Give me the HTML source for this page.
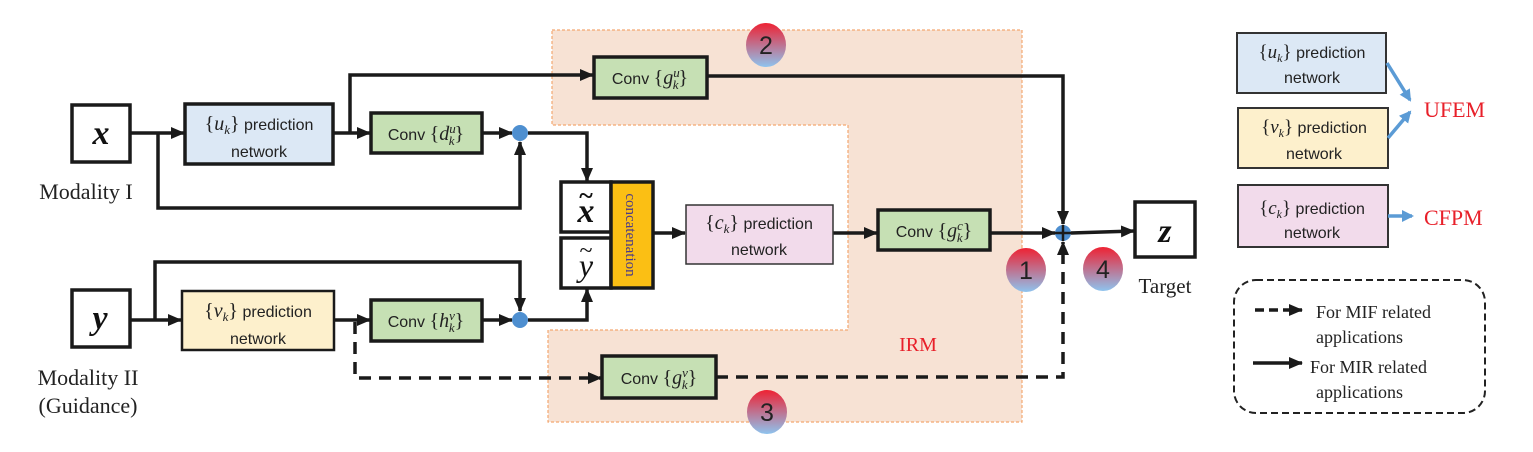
<!DOCTYPE html>
<html><head><meta charset="utf-8"><style>
html,body{margin:0;padding:0;background:#fff;}
svg{display:block;}
.s{font-family:"Liberation Sans","DejaVu Sans",sans-serif;font-size:16px;fill:#222;}
.m{font-family:"Liberation Serif",serif;font-style:italic;}
.r{font-family:"Liberation Serif",serif;}
</style></head><body>
<svg width="1533" height="452" viewBox="0 0 1533 452" xmlns="http://www.w3.org/2000/svg">
<defs>
<marker id="a" markerWidth="14" markerHeight="14" refX="13" refY="7" orient="auto" markerUnits="userSpaceOnUse"><path d="M0,1 L14,7 L0,13 z" fill="#1a1a1a"/></marker>
<marker id="b" markerWidth="12" markerHeight="12" refX="10" refY="6" orient="auto" markerUnits="userSpaceOnUse"><path d="M0,0 L12,6 L0,12 z" fill="#5b9bd5"/></marker>
<linearGradient id="g" x1="0" y1="0" x2="0" y2="1"><stop offset="0" stop-color="#ee2233"/><stop offset="1" stop-color="#8ec3ee"/></linearGradient>
</defs>
<path d="M552,30 H1022 V422 H548 V330 H848 V125 H552 Z" fill="#f7e2d4" stroke="#f4a870" stroke-width="1.2" stroke-dasharray="3,2"/>
<text x="918" y="351" class="r" font-size="20" fill="#e8202a" text-anchor="middle">IRM</text>
<g stroke="#1a1a1a" stroke-width="3.5" fill="none">
<line x1="130" y1="133" x2="184" y2="133" marker-end="url(#a)"/>
<polyline points="158,133 158,208 520,208 520,142" marker-end="url(#a)"/>
<line x1="333" y1="133" x2="370" y2="133" marker-end="url(#a)"/>
<polyline points="350,133 350,75 593,75" marker-end="url(#a)"/>
<line x1="482" y1="133" x2="512" y2="133" marker-end="url(#a)"/>
<polyline points="528,133 587,133 587,181" marker-end="url(#a)"/>
<polyline points="707,76 1063,76 1063,224" marker-end="url(#a)"/>
<line x1="130" y1="320" x2="181" y2="320" marker-end="url(#a)"/>
<polyline points="155,320 155,262 520,262 520,311" marker-end="url(#a)"/>
<line x1="334" y1="320" x2="370" y2="320" marker-end="url(#a)"/>
<line x1="482" y1="320" x2="512" y2="320" marker-end="url(#a)"/>
<polyline points="528,320 587,320 587,289" marker-end="url(#a)"/>
<line x1="653" y1="233" x2="685" y2="233" marker-end="url(#a)"/>
<line x1="833" y1="233" x2="877" y2="233" marker-end="url(#a)"/>
<line x1="990" y1="233" x2="1055" y2="233" marker-end="url(#a)"/>
<line x1="1071" y1="233" x2="1134" y2="231" marker-end="url(#a)"/>
</g>
<g stroke="#1a1a1a" stroke-width="3.5" fill="none" stroke-dasharray="12,8">
<polyline points="355,322 355,378 601,378" marker-end="url(#a)"/>
<polyline points="716,377 1063,377 1063,242" marker-end="url(#a)"/>
</g>
<circle cx="520" cy="133" r="8" fill="#4e8fd0"/>
<circle cx="520" cy="320" r="8" fill="#4e8fd0"/>
<circle cx="1063" cy="233" r="8" fill="#4e8fd0"/>
<line x1="1055" y1="233" x2="1071" y2="233" stroke="#1a1a1a" stroke-width="2.5"/>
<line x1="1063" y1="225" x2="1063" y2="241" stroke="#1a1a1a" stroke-width="2.5"/>
<rect x="72" y="105" width="58" height="57" fill="#fff" stroke="#1a1a1a" stroke-width="3.5"/>
<text x="101" y="144" class="m" font-size="34" font-weight="bold" text-anchor="middle" fill="#111">x</text>
<text x="86" y="199" class="r" font-size="22" text-anchor="middle" fill="#222">Modality I</text>
<rect x="72" y="290" width="58" height="57" fill="#fff" stroke="#1a1a1a" stroke-width="3.5"/>
<text x="100" y="329" class="m" font-size="34" font-weight="bold" text-anchor="middle" fill="#111">y</text>
<text x="88" y="385" class="r" font-size="22" text-anchor="middle" fill="#222">Modality II</text>
<text x="88" y="413" class="r" font-size="22" text-anchor="middle" fill="#222">(Guidance)</text>
<rect x="185" y="104" width="148" height="60" fill="#dce8f5" stroke="#1a1a1a" stroke-width="3.5"/>
<text x="259" y="130" class="s" font-size="18" text-anchor="middle"><tspan class="r" font-size="20">{</tspan><tspan class="m" font-size="20">u<tspan font-size="13" dy="4">k</tspan></tspan><tspan class="r" font-size="20" dy="-4">}</tspan> prediction</text>
<text x="259" y="157" class="s" font-size="18" text-anchor="middle">network</text>
<rect x="182" y="291" width="152" height="59" fill="#fdf0cc" stroke="#1a1a1a" stroke-width="2.5"/>
<text x="258" y="317" class="s" font-size="18" text-anchor="middle"><tspan class="r" font-size="20">{</tspan><tspan class="m" font-size="20">v<tspan font-size="13" dy="4">k</tspan></tspan><tspan class="r" font-size="20" dy="-4">}</tspan> prediction</text>
<text x="258" y="344" class="s" font-size="18" text-anchor="middle">network</text>
<rect x="686" y="205" width="147" height="59" fill="#f2dbeb" stroke="#333" stroke-width="1.5"/>
<text x="759" y="229" class="s" font-size="18" text-anchor="middle"><tspan class="r" font-size="20">{</tspan><tspan class="m" font-size="20">c<tspan font-size="13" dy="4">k</tspan></tspan><tspan class="r" font-size="20" dy="-4">}</tspan> prediction</text>
<text x="759" y="255" class="s" font-size="18" text-anchor="middle">network</text>
<g fill="#c6e0b4" stroke="#1a1a1a" stroke-width="3.5">
<rect x="371" y="113" width="111" height="40"/>
<rect x="371" y="300" width="111" height="41"/>
<rect x="594" y="57" width="113" height="41"/>
<rect x="878" y="210" width="112" height="40"/>
<rect x="602" y="356" width="114" height="42"/>
</g>
<g class="s" font-size="18" text-anchor="middle">
<text x="426" y="140">Conv <tspan class="r" font-size="20">{</tspan><tspan class="m" font-size="20">d<tspan font-size="13" dy="-7">u</tspan><tspan font-size="13" dx="-7" dy="12">k</tspan></tspan><tspan class="r" font-size="20" dy="-5">}</tspan></text>
<text x="426" y="327">Conv <tspan class="r" font-size="20">{</tspan><tspan class="m" font-size="20">h<tspan font-size="13" dy="-7">v</tspan><tspan font-size="13" dx="-6" dy="12">k</tspan></tspan><tspan class="r" font-size="20" dy="-5">}</tspan></text>
<text x="650" y="84">Conv <tspan class="r" font-size="20">{</tspan><tspan class="m" font-size="20">g<tspan font-size="13" dy="-7">u</tspan><tspan font-size="13" dx="-7" dy="12">k</tspan></tspan><tspan class="r" font-size="20" dy="-5">}</tspan></text>
<text x="934" y="237">Conv <tspan class="r" font-size="20">{</tspan><tspan class="m" font-size="20">g<tspan font-size="13" dy="-7">c</tspan><tspan font-size="13" dx="-6" dy="12">k</tspan></tspan><tspan class="r" font-size="20" dy="-5">}</tspan></text>
<text x="659" y="384">Conv <tspan class="r" font-size="20">{</tspan><tspan class="m" font-size="20">g<tspan font-size="13" dy="-7">v</tspan><tspan font-size="13" dx="-6" dy="12">k</tspan></tspan><tspan class="r" font-size="20" dy="-5">}</tspan></text>
</g>
<rect x="561" y="182" width="50" height="50" fill="#fff" stroke="#1a1a1a" stroke-width="3.5"/>
<rect x="561" y="238" width="50" height="50" fill="#fff" stroke="#1a1a1a" stroke-width="3.5"/>
<rect x="611" y="182" width="42" height="106" fill="#fbbf14" stroke="#1a1a1a" stroke-width="3.5"/>
<text x="586" y="222" class="m" font-size="34" font-weight="bold" text-anchor="middle" fill="#111">x</text>
<text x="586" y="204" class="r" font-size="26" font-weight="bold" text-anchor="middle" fill="#111">~</text>
<text x="586" y="276" class="m" font-size="32" text-anchor="middle" fill="#111">y</text>
<text x="586" y="258" class="r" font-size="24" text-anchor="middle" fill="#111">~</text>
<text transform="translate(626,235) rotate(90)" class="r" font-size="15" text-anchor="middle" fill="#4a3a8a">concatenation</text>
<rect x="1135" y="202" width="60" height="55" fill="#fff" stroke="#1a1a1a" stroke-width="3.5"/>
<text x="1165" y="242" class="m" font-size="34" font-weight="bold" text-anchor="middle" fill="#111">z</text>
<text x="1165" y="293" class="r" font-size="21" text-anchor="middle" fill="#222">Target</text>
<g font-family="Liberation Sans,sans-serif" font-size="25" text-anchor="middle" fill="#222">
<ellipse cx="766" cy="45" rx="20" ry="22" fill="url(#g)"/><text x="766" y="54">2</text>
<ellipse cx="1026" cy="270" rx="20" ry="22" fill="url(#g)"/><text x="1026" y="279">1</text>
<ellipse cx="1103" cy="269" rx="20" ry="22" fill="url(#g)"/><text x="1103" y="278">4</text>
<ellipse cx="767" cy="412" rx="20" ry="22" fill="url(#g)"/><text x="767" y="421">3</text>
</g>
<rect x="1237" y="33" width="149" height="60" fill="#dce8f5" stroke="#333" stroke-width="2"/>
<rect x="1238" y="108" width="150" height="60" fill="#fdf0cc" stroke="#333" stroke-width="2"/>
<rect x="1238" y="185" width="150" height="62" fill="#f2dbeb" stroke="#333" stroke-width="2"/>
<g class="s" font-size="17" text-anchor="middle">
<text x="1312" y="58"><tspan class="r" font-size="19">{</tspan><tspan class="m" font-size="19">u<tspan font-size="12" dy="4">k</tspan></tspan><tspan class="r" font-size="19" dy="-4">}</tspan> prediction</text>
<text x="1312" y="83">network</text>
<text x="1314" y="133"><tspan class="r" font-size="19">{</tspan><tspan class="m" font-size="19">v<tspan font-size="12" dy="4">k</tspan></tspan><tspan class="r" font-size="19" dy="-4">}</tspan> prediction</text>
<text x="1314" y="159">network</text>
<text x="1312" y="214"><tspan class="r" font-size="19">{</tspan><tspan class="m" font-size="19">c<tspan font-size="12" dy="4">k</tspan></tspan><tspan class="r" font-size="19" dy="-4">}</tspan> prediction</text>
<text x="1312" y="238">network</text>
</g>
<g stroke="#5b9bd5" stroke-width="3.5" fill="none">
<line x1="1387" y1="63" x2="1410" y2="100" marker-end="url(#b)"/>
<line x1="1388" y1="138" x2="1410" y2="112" marker-end="url(#b)"/>
<line x1="1388" y1="216" x2="1412" y2="216" marker-end="url(#b)"/>
</g>
<text x="1424" y="117" class="r" font-size="22" fill="#e8202a">UFEM</text>
<text x="1424" y="225" class="r" font-size="22" fill="#e8202a">CFPM</text>
<rect x="1234" y="280" width="251" height="133" rx="22" fill="none" stroke="#222" stroke-width="2" stroke-dasharray="7,4"/>
<line x1="1255" y1="310" x2="1302" y2="310" stroke="#1a1a1a" stroke-width="3.5" stroke-dasharray="9,5" marker-end="url(#a)"/>
<line x1="1253" y1="363" x2="1302" y2="363" stroke="#1a1a1a" stroke-width="3.5" marker-end="url(#a)"/>
<g class="r" font-size="18" fill="#222">
<text x="1316" y="318">For MIF related</text>
<text x="1316" y="343">applications</text>
<text x="1310" y="373">For MIR related</text>
<text x="1316" y="398">applications</text>
</g>
</svg>
</body></html>
